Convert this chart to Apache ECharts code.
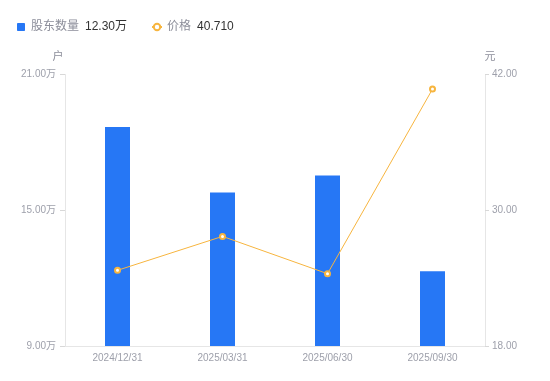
<!DOCTYPE html>
<html>
<head>
<meta charset="utf-8">
<script src="https://cdn.jsdelivr.net/npm/echarts@6/dist/echarts.min.js"></script>
<style>
  html, body { margin: 0; padding: 0; background: #fff; }
  #chart { width: 550px; height: 381px; }
</style>
</head>
<body>
<div id="chart"></div>
<script>
// 报告期
const dates = ['2024/12/31', '2025/03/31', '2025/06/30', '2025/09/30']
// 股东数量 (万户)
const holders = [18.68, 15.79, 16.54, 12.30]
// 价格 (元)
const prices = [24.69, 27.69, 24.39, 40.71]

const labelColor = '#9ea0ab'
const lineColor = '#e6e6e6'
const font = '"Liberation Sans", "Noto Sans CJK SC", sans-serif'

const chart = echarts.init(document.getElementById('chart'))

const lastVal = {
  '股东数量': holders[holders.length - 1].toFixed(2) + '万',
  '价格': prices[prices.length - 1].toFixed(3),
}

chart.setOption({
  animation: false,
  textStyle: { fontFamily: font },
  legend: {
    left: 12,
    top: 16,
    itemWidth: 10,
    itemHeight: 8,
    itemGap: 24,
    data: [
      { name: '股东数量', icon: 'path://M1,0H9Q10,0 10,1V9Q10,10 9,10H1Q0,10 0,9V1Q0,0 1,0Z' },
      { name: '价格' },
    ],
    formatter: name => `{n|${name}}{v|${lastVal[name]}}`,
    textStyle: {
      fontFamily: font,
      rich: {
        n: { color: '#8c8e9a', fontSize: 12, padding: [0, 6, 0, 0] },
        v: { color: '#333', fontSize: 12 },
      },
    },
  },
  grid: { left: 65, right: 65, top: 74.5, bottom: 35 },
  xAxis: {
    type: 'category',
    data: dates,
    axisLine: { lineStyle: { color: lineColor } },
    axisTick: { show: false },
    axisLabel: { color: labelColor, fontSize: 10, margin: 7 },
  },
  yAxis: [
    {
      type: 'value',
      name: '户',
      min: 9,
      max: 21,
      interval: 6,
      nameGap: 12,
      nameTextStyle: { color: '#8c8e9a', fontSize: 11, padding: [0, 14, 0, 0] },
      axisLine: { show: true, lineStyle: { color: lineColor } },
      axisTick: { show: true, length: 5, lineStyle: { color: '#d8d8d8' } },
      splitLine: { show: false },
      axisLabel: {
        color: labelColor,
        fontSize: 10,
        margin: 9,
        formatter: v => v.toFixed(2) + '万',
      },
    },
    {
      type: 'value',
      name: '元',
      min: 18,
      max: 42,
      interval: 12,
      nameGap: 12,
      nameTextStyle: { color: '#8c8e9a', fontSize: 11, padding: [0, 0, 0, 10] },
      axisLine: { show: true, lineStyle: { color: lineColor } },
      axisTick: { show: true, length: 4, lineStyle: { color: '#d8d8d8' } },
      splitLine: { show: false },
      axisLabel: {
        color: labelColor,
        fontSize: 10,
        margin: 7,
        formatter: v => v.toFixed(2),
      },
    },
  ],
  series: [
    {
      name: '股东数量',
      type: 'bar',
      data: holders,
      barWidth: 25,
      itemStyle: { color: '#2677f5' },
    },
    {
      name: '价格',
      type: 'line',
      yAxisIndex: 1,
      data: prices,
      symbol: 'emptyCircle',
      symbolSize: 5,
      lineStyle: { color: '#f7b53f', width: 1 },
      itemStyle: { color: '#f7b53f', borderWidth: 1.5 },
    },
  ],
})
</script>
</body>
</html>
